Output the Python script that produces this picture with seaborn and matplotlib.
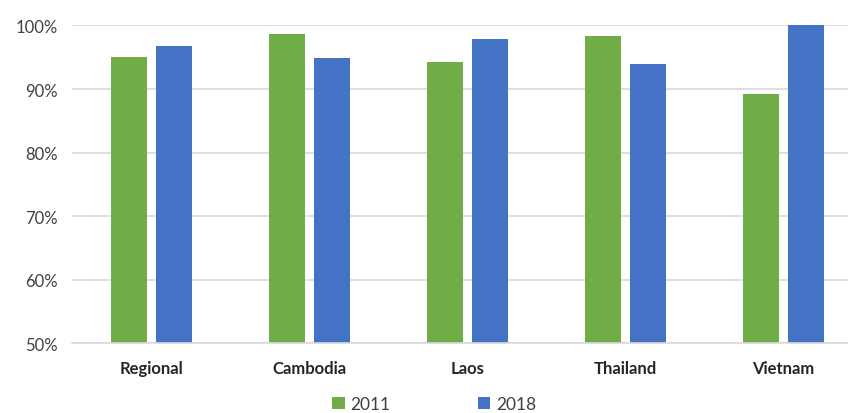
import matplotlib
matplotlib.use('Agg')
import matplotlib.pyplot as plt
import seaborn as sns
import pandas as pd
from matplotlib.ticker import PercentFormatter

countries = ['Regional', 'Cambodia', 'Laos', 'Thailand', 'Vietnam']
years = ['2011', '2018']
vals_2011 = [95.1, 98.6, 94.2, 98.3, 89.2]
vals_2018 = [96.7, 94.9, 97.9, 93.9, 100.0]

df = pd.DataFrame({
    'country': countries * 2,
    'year': [years[0]] * len(countries) + [years[1]] * len(countries),
    'value': vals_2011 + vals_2018,
})

sns.set_style('white')
plt.rcParams['font.family'] = ['Lato', 'DejaVu Sans']

fig = plt.figure(figsize=(8.48, 4.14), dpi=100)
ax = fig.add_axes([0.085, 0.169, 0.932, 0.767])

palette = {'2011': '#70AD47', '2018': '#4472C4'}
sns.barplot(data=df, x='country', y='value', hue='year', palette=palette,
            width=0.57, gap=0.2, saturation=1, linewidth=0, ax=ax, legend=True)

ax.set_ylim(50, 100)
ax.set_xlim(-0.5, 4.5)
ax.set_yticks(range(50, 101, 10))
ax.yaxis.set_major_formatter(PercentFormatter(decimals=0))
ax.grid(axis='y', color='#D9D9D9', linewidth=1.2)
ax.set_axisbelow(True)
for s in ['top', 'right', 'left']:
    ax.spines[s].set_visible(False)
ax.spines['bottom'].set_color('#D9D9D9')
ax.spines['bottom'].set_linewidth(1.2)
ax.tick_params(axis='y', labelsize=12, colors='#404040', length=0, pad=10)
ax.tick_params(axis='x', labelsize=12, colors='#262626', length=0, pad=12)
for lbl in ax.get_xticklabels():
    lbl.set_fontweight('bold')
ax.set_xlabel('')
ax.set_ylabel('')

handles, labels = ax.get_legend_handles_labels()
ax.legend_.remove()
fig.legend(handles, labels, loc='center', bbox_to_anchor=(0.512, 0.022),
           ncol=2, frameon=False, fontsize=12.5, handlelength=0.7, handleheight=0.7,
           handletextpad=0.35, columnspacing=5.0, labelcolor='#404040')

fig.savefig('out.png', dpi=100)
